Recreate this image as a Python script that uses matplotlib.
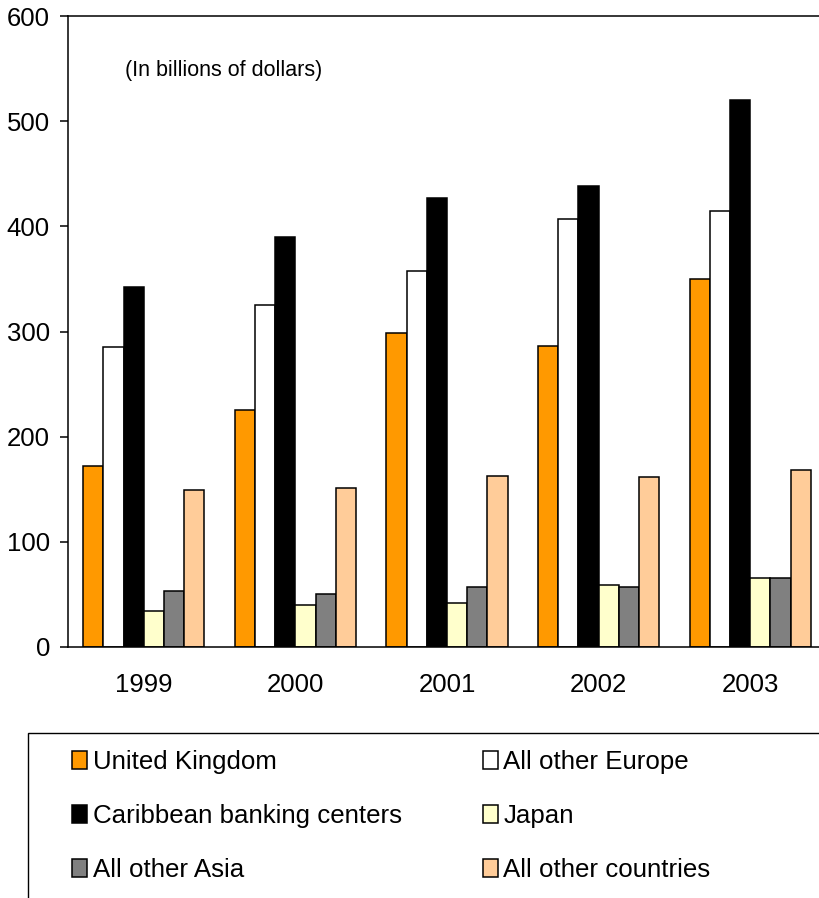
import matplotlib
matplotlib.use("Agg")
import matplotlib.pyplot as plt
import numpy as np
from matplotlib.patches import Rectangle

plt.rcParams['font.family'] = ['Liberation Sans', 'DejaVu Sans']

years = ["1999", "2000", "2001", "2002", "2003"]
series_names = ["United Kingdom", "All other Europe", "Caribbean banking centers",
                "Japan", "All other Asia", "All other countries"]
united_kingdom = [172, 225, 299, 286, 350]
other_europe = [285, 325, 358, 407, 415]
caribbean = [342, 390, 427, 438, 520]
japan = [34, 40, 42, 59, 66]
other_asia = [53, 50, 57, 57, 66]
other_countries = [149, 151, 163, 162, 168]
colors = ["#FF9900", "#FFFFFF", "#000000", "#FFFFCC", "#808080", "#FFCC99"]

values = [united_kingdom, other_europe, caribbean, japan, other_asia, other_countries]

fig = plt.figure(figsize=(8.2, 8.98), dpi=100)
W, H = 820, 898
ax = fig.add_axes([68 / W, (H - 647) / H, 758 / W, 631 / H])

x = np.arange(len(years))
bw = 0.8 / 6
handles = []
for i, (vals, c, name) in enumerate(zip(values, colors, series_names)):
    b = ax.bar(x - 0.4 + bw * (i + 0.5), vals, width=bw, color=c,
               edgecolor="black", linewidth=1.1, label=name)
    handles.append(b)

ax.set_xlim(-0.5, len(years) - 0.5)
ax.set_ylim(0, 600)
ax.set_yticks(range(0, 601, 100))
ax.set_xticks(x)
ax.set_xticklabels(years)
ax.tick_params(axis='y', direction='out', length=6, width=1.1, labelsize=18.5, pad=7)
ax.tick_params(axis='x', length=0, labelsize=18.5, pad=19)
for s in ['left', 'bottom', 'top', 'right']:
    ax.spines[s].set_linewidth(1.1)

ax.text(-0.124, 548.6, "(In billions of dollars)", fontsize=15.5, va='center', ha='left')

# legend frame
fig.patches.append(Rectangle((28 / W, -0.05), 1.1, (H - 733) / H + 0.05,
                             transform=fig.transFigure, fill=False,
                             edgecolor='black', linewidth=1.0))
order = [0, 2, 4, 1, 3, 5]
fig.legend([handles[k] for k in order], [series_names[k] for k in order],
           ncol=2, loc='upper left', bbox_to_anchor=(72 / W, (H - 750) / H),
           frameon=False, fontsize=18.6, handlelength=0.6, handleheight=0.7,
           handletextpad=0.2, labelspacing=1.17, columnspacing=3.13,
           borderpad=0, borderaxespad=0)

fig.savefig("out.png", dpi=100)
